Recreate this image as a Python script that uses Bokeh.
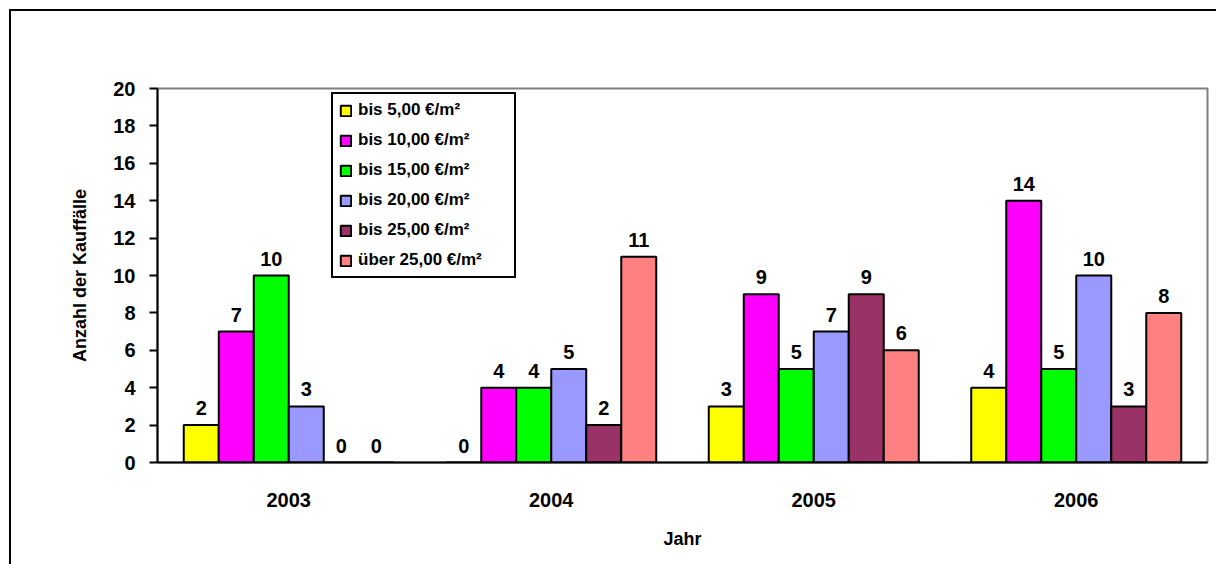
from bokeh.plotting import figure
from bokeh.models import (ColumnDataSource, Legend, LegendItem,
                          FactorRange, Range1d, SingleIntervalTicker)
from bokeh.transform import dodge
from bokeh.core.properties import value
from bokeh.embed import file_html
from bokeh.resources import INLINE

years = ["2003", "2004", "2005", "2006"]
series_names = ["bis 5,00 €/m²", "bis 10,00 €/m²", "bis 15,00 €/m²",
                "bis 20,00 €/m²", "bis 25,00 €/m²", "über 25,00 €/m²"]
bis_5 = [2, 0, 3, 4]
bis_10 = [7, 4, 9, 14]
bis_15 = [10, 4, 5, 5]
bis_20 = [3, 5, 7, 10]
bis_25 = [0, 2, 9, 3]
ueber_25 = [0, 11, 6, 8]
colors = ["#FFFF00", "#FF00FF", "#00FF00", "#9999FF", "#993366", "#FF8080"]

series = [bis_5, bis_10, bis_15, bis_20, bis_25, ueber_25]
FONT = "Liberation Sans"

data = {"year": years}
for i, s in enumerate(series):
    data[f"s{i}"] = s
    data[f"l{i}"] = [str(v) for v in s]
src = ColumnDataSource(data)

p = figure(x_range=FactorRange(*years, range_padding=0), y_range=Range1d(0, 20),
           width=1216, height=564, output_backend="svg", toolbar_location=None,
           min_border_left=157, min_border_right=9, min_border_top=88,
           min_border_bottom=102)

p.xgrid.grid_line_color = None
p.ygrid.grid_line_color = None
p.outline_line_color = "#808080"
p.outline_line_width = 2
p.background_fill_color = "white"
p.border_fill_alpha = 0
p.styles = {
    "background": ("linear-gradient(#000,#000) 9px 9px / 100% 2px no-repeat, "
                   "linear-gradient(#000,#000) 9px 9px / 2px 100% no-repeat, #fff"),
}

n = len(series)
bw = 0.8 / n
items = []
for i, s in enumerate(series):
    off = -0.4 + bw * (i + 0.5)
    r = p.vbar(x=dodge("year", off, range=p.x_range), top=f"s{i}", width=bw,
               source=src, fill_color=colors[i], line_color="black", line_width=2)
    p.text(x=dodge("year", off, range=p.x_range), y=f"s{i}", text=f"l{i}",
           source=src, text_align="center", text_baseline="alphabetic",
           y_offset=-17, text_font=value(FONT), text_font_style="bold",
           text_font_size="20px", text_color="black")
    items.append(LegendItem(label=series_names[i], renderers=[r]))

legend = Legend(items=items, location=(174, 184), orientation="vertical",
                border_line_color="black", border_line_width=2, border_line_alpha=1,
                background_fill_color="white", background_fill_alpha=1,
                label_text_font=FONT, label_text_font_style="bold",
                label_text_font_size="17px", label_text_color="black",
                glyph_width=13, glyph_height=13, label_standoff=6,
                label_height=20, label_width=150, spacing=10, padding=6, margin=0)
p.add_layout(legend, "center")

# y axis
p.yaxis.ticker = SingleIntervalTicker(interval=2)
p.yaxis.minor_tick_line_color = None
p.yaxis.major_tick_out = 8
p.yaxis.major_tick_in = 0
p.yaxis.major_tick_line_width = 2
p.yaxis.axis_line_width = 2
p.yaxis.axis_line_color = "black"
p.yaxis.major_label_standoff = 14
p.yaxis.major_label_text_font = FONT
p.yaxis.major_label_text_font_style = "bold"
p.yaxis.major_label_text_font_size = "20px"
p.yaxis.major_label_text_color = "black"
p.yaxis.axis_label = "Anzahl der Kauffälle"
p.yaxis.axis_label_text_font = FONT
p.yaxis.axis_label_text_font_style = "bold"
p.yaxis.axis_label_text_font_size = "18px"
p.yaxis.axis_label_text_color = "black"
p.yaxis.axis_label_standoff = 20

# x axis
p.xaxis.major_tick_line_color = None
p.xaxis.minor_tick_line_color = None
p.xaxis.axis_line_width = 2
p.xaxis.axis_line_color = "black"
p.xaxis.major_label_standoff = 24
p.xaxis.major_label_text_font = FONT
p.xaxis.major_label_text_font_style = "bold"
p.xaxis.major_label_text_font_size = "20px"
p.xaxis.major_label_text_color = "black"
p.xaxis.axis_label = "Jahr"
p.xaxis.axis_label_text_font = FONT
p.xaxis.axis_label_text_font_style = "bold"
p.xaxis.axis_label_text_font_size = "18px"
p.xaxis.axis_label_text_color = "black"
p.xaxis.axis_label_standoff = 19

open("out.html", "w").write(file_html(p, INLINE))
